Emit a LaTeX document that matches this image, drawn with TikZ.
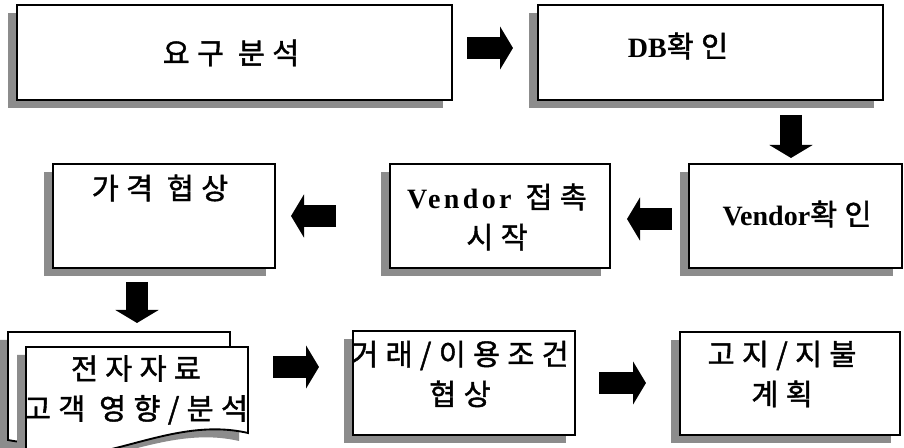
\documentclass[tikz,border=0pt]{standalone}
\usepackage{fontspec}
\usetikzlibrary{arrows.meta,shadows}
\newfontfamily\kr[LetterSpace=25, FakeBold=1.4]{Noto Sans CJK KR}
\newfontfamily\tms{Liberation Serif}
\newfontfamily\tmswide[LetterSpace=12]{Liberation Serif}
\newcommand\latin[1]{{\tms\bfseries\fontsize{21pt}{30pt}\selectfont #1}}
\definecolor{shade}{gray}{0.55}

\begin{document}
\begin{tikzpicture}[x=0.75pt,y=-0.75pt,
    box/.style={draw=black, line width=1.4pt, fill=white, rectangle, inner sep=0pt,
      drop shadow={shadow xshift=-6.75pt, shadow yshift=-6pt, fill=shade, opacity=1}},
    boxsize/.style 2 args={minimum width=#1*0.75pt, minimum height=#2*0.75pt},
    sheet/.style={draw=black, line width=1.4pt, fill=white,
      drop shadow={shadow xshift=-6.75pt, shadow yshift=-6pt, fill=shade, opacity=1}},
    txt/.style={font=\kr\fontsize{22pt}{30pt}\selectfont, align=center, inner sep=0pt},
    fat/.style={line width=16.5pt, -{Triangle[length=9.75pt, width=32pt]}}]
    \useasboundingbox (0,0) rectangle (904,448);
    \clip (0,0) rectangle (904,448);

    % Top row
    \node[box, boxsize={435}{95}] (req) at (234.5,52.5) {};
    \node[txt] (reqt) at (231,53) {요구 분석};
    \node[box, boxsize={345}{95}] (db) at (710.5,52.5) {};
    \node[txt] (dbt) at (678,46) {\latin{DB}확인};

    % Middle row
    \node[box, boxsize={213}{104}] (vchk) at (795.5,216) {};
    \node[txt] (vchkt) at (797,214) {\latin{Vendor}확인};
    \node[box, boxsize={220}{104}] (vcon) at (500,216) {};
    \node[txt] (vcont) at (497,217)
      {{\tmswide\bfseries\fontsize{21pt}{30pt}\selectfont Vendor} 접촉\\시작};
    \node[box, boxsize={222}{104}] (price) at (164,216) {};
    \node[txt] (pricet) at (160,188) {가격 협상};

    % Electronic resources (two sheets)
    \draw[sheet] (8,332) -- (230,332) -- (230,418)
      .. controls (152,400) and (82,455) .. (8,440) -- cycle;
    \draw[sheet] (26,347) -- (248,347) -- (248,433)
      .. controls (170,415) and (100,470) .. (26,455) -- cycle;
    \node[txt] (doct) at (136,390) {전자자료\\고객 영향/분석};

    % Bottom row
    \node[box, boxsize={222}{104}] (terms) at (464,383) {};
    \node[txt] (termst) at (460,374) {거래/이용조건\\협상};
    \node[box, boxsize={220}{103}] (pay) at (790,383.5) {};
    \node[txt] (payt) at (782,374) {고지/지불\\계획};

    % Block arrows
    \coordinate (a1s) at (467,48);  \coordinate (a1e) at (513,48);
    \coordinate (a2s) at (791,115); \coordinate (a2e) at (791,158);
    \coordinate (a3s) at (672,219); \coordinate (a3e) at (627,219);
    \coordinate (a4s) at (336,216); \coordinate (a4e) at (291,216);
    \coordinate (a5s) at (137,282); \coordinate (a5e) at (137,323);
    \coordinate (a6s) at (273,367); \coordinate (a6e) at (319,367);
    \coordinate (a7s) at (599,383); \coordinate (a7e) at (646,383);
    \draw[fat] (a1s) -- (a1e);
    \draw[fat] (a2s) -- (a2e);
    \draw[fat] (a3s) -- (a3e);
    \draw[fat] (a4s) -- (a4e);
    \draw[fat] (a5s) -- (a5e);
    \draw[fat] (a6s) -- (a6e);
    \draw[fat] (a7s) -- (a7e);
  \end{tikzpicture}
\end{document}
